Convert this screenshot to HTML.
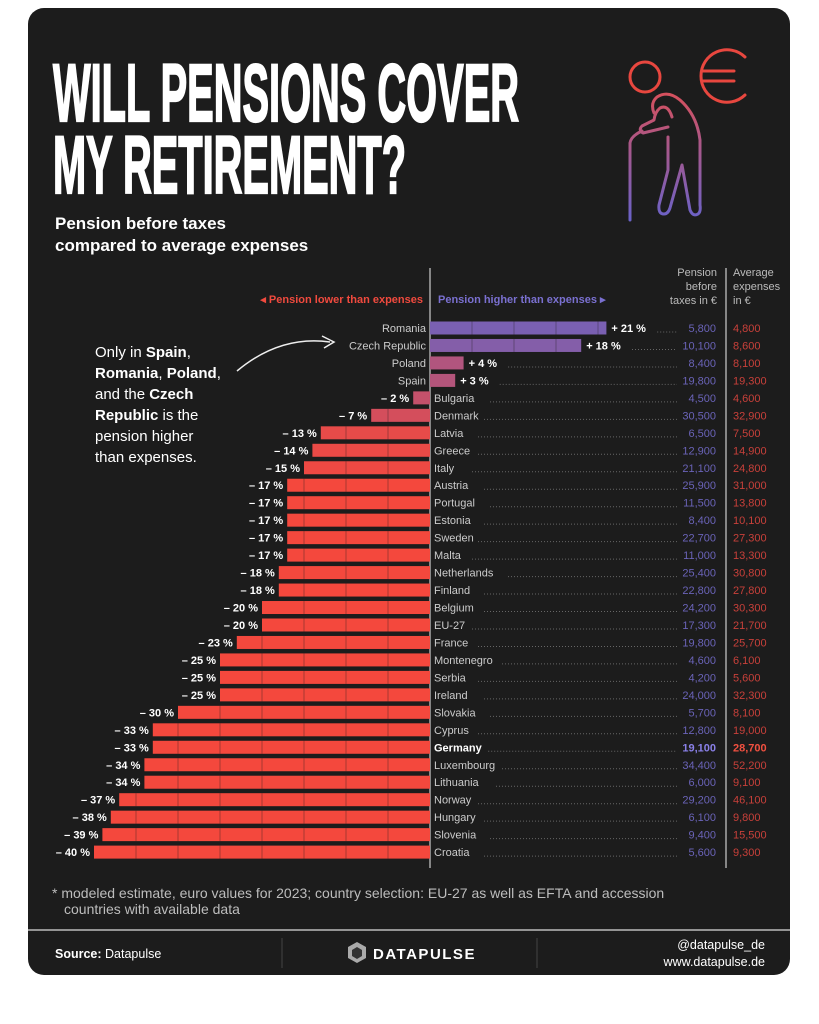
<!DOCTYPE html>
<html><head><meta charset="utf-8">
<style>
html,body{margin:0;padding:0;background:#fff;}
svg{display:block;font-family:"Liberation Sans",sans-serif;}
</style></head>
<body>
<svg id="chart" width="819" height="1024" viewBox="0 0 819 1024">
<defs>
<linearGradient id="ig" x1="0" y1="90" x2="0" y2="220" gradientUnits="userSpaceOnUse">
<stop offset="0" stop-color="#d9505a"/><stop offset="1" stop-color="#6a62c8"/>
</linearGradient>
</defs>
<rect x="28" y="8" width="762" height="967" rx="16" fill="#1c1c1c"/>
<g fill="#fff" stroke="#fff" stroke-width="2.2" font-family="'Liberation Sans Narrow','Liberation Sans',sans-serif" font-weight="bold">
<text x="53" y="121" font-size="82" textLength="466" lengthAdjust="spacingAndGlyphs">WILL PENSIONS COVER</text>
<text x="53" y="193" font-size="82" textLength="353" lengthAdjust="spacingAndGlyphs">MY RETIREMENT?</text>
</g>
<g fill="#fff" font-size="17" font-weight="bold">
<text x="55" y="229">Pension before taxes</text>
<text x="55" y="251">compared to average expenses</text>
</g>
<g fill="none" stroke-width="3" stroke-linecap="round" stroke-linejoin="round">
<circle cx="645" cy="77" r="15" stroke="#e8473f"/>
<path d="M745 57 A26 26 0 0 0 701 76 A26 26 0 0 0 745 95" stroke="#e8473f"/>
<path d="M702 71 H734 M702 81 H734" stroke="#e8473f"/>
<g stroke="url(#ig)">
<path d="M668 137 V170 L659 205 Q658 214 664 214 Q668 214 670 208 L682 165 L690 210 Q693 217 698 214 Q701 212 700 205 V140 Q697 115 680 100 Q668 90 657 97 Q650 103 654 113"/>
<path d="M672 117 Q668 104 660 108 Q655 112 654 120 L642 126 Q638 130 643 133 L668 127"/>
<path d="M630 220 V143 Q631 136 642 131"/>
</g>
</g>
<text x="52" y="898" font-size="14" fill="#bdbdbd">* modeled estimate, euro values for 2023; country selection: EU-27 as well as EFTA and accession</text>
<text x="64" y="914" font-size="14" fill="#bdbdbd">countries with available data</text>
<line x1="28" y1="930" x2="790" y2="930" stroke="#bbb" stroke-width="1.5"/>
<line x1="282" y1="938" x2="282" y2="968" stroke="#444"/>
<line x1="537" y1="938" x2="537" y2="968" stroke="#444"/>
<text x="55" y="958" font-size="12.5" fill="#fff"><tspan font-weight="bold">Source:</tspan> Datapulse</text>
<g>
<polygon points="357,942 366,947 366,958 357,963 348,958 348,947" fill="#aaa"/>
<polygon points="357,947 362,950 362,956 357,959 352,956 352,950" fill="#333"/>
<text x="373" y="959" font-size="15" font-weight="bold" fill="#fff" letter-spacing="1.5">DATAPULSE</text>
</g>
<text x="765" y="949" font-size="12.5" fill="#fff" text-anchor="end">@datapulse_de</text>
<text x="765" y="966" font-size="12.5" fill="#fff" text-anchor="end">www.datapulse.de</text>
<g fill="#fff" font-size="15">
<text x="95" y="357">Only in <tspan font-weight="bold">Spain</tspan>,</text>
<text x="95" y="378"><tspan font-weight="bold">Romania</tspan>, <tspan font-weight="bold">Poland</tspan>,</text>
<text x="95" y="399">and the <tspan font-weight="bold">Czech</tspan></text>
<text x="95" y="420"><tspan font-weight="bold">Republic</tspan> is the</text>
<text x="95" y="441">pension higher</text>
<text x="95" y="462">than expenses.</text>
</g>
<path d="M237 371 Q280 335 330 342 M322 336 L334 342 L324 348" fill="none" stroke="#eee" stroke-width="1.5"/>
<g font-size="11">
<text x="423" y="303" fill="#f04a3e" font-weight="bold" text-anchor="end">◂  Pension lower than expenses</text>
<text x="438" y="303" fill="#7a70d0" font-weight="bold">Pension higher than expenses  ▸</text>
<g fill="#bbb" text-anchor="end"><text x="717" y="276">Pension</text><text x="717" y="290">before</text><text x="717" y="304">taxes in €</text></g>
<g fill="#bbb"><text x="733" y="276">Average</text><text x="733" y="290">expenses</text><text x="733" y="304">in €</text></g>
</g>
<line x1="430" y1="268" x2="430" y2="868" stroke="#ccc" stroke-width="1.2"/>
<line x1="726" y1="268" x2="726" y2="868" stroke="#ccc" stroke-width="1.2"/>
<g id="rows"></g>
</svg>
<script>
const countries=["Romania","Czech Republic","Poland","Spain","Bulgaria","Denmark","Latvia","Greece","Italy","Austria","Portugal","Estonia","Sweden","Malta","Netherlands","Finland","Belgium","EU-27","France","Montenegro","Serbia","Ireland","Slovakia","Cyprus","Germany","Luxembourg","Lithuania","Norway","Hungary","Slovenia","Croatia"];
const diffs=[21,18,4,3,-2,-7,-13,-14,-15,-17,-17,-17,-17,-17,-18,-18,-20,-20,-23,-25,-25,-25,-30,-33,-33,-34,-34,-37,-38,-39,-40];
const pensions=[5800,10100,8400,19800,4500,30500,6500,12900,21100,25900,11500,8400,22700,11000,25400,22800,24200,17300,19800,4600,4200,24000,5700,12800,19100,34400,6000,29200,6100,9400,5600];
const expenses=[4800,8600,8100,19300,4600,32900,7500,14900,24800,31000,13800,10100,27300,13300,30800,27800,30300,21700,25700,6100,5600,32300,8100,19000,28700,52200,9100,46100,9800,15500,9300];
const NS="http://www.w3.org/2000/svg";
const x0=430,pxPer=8.4,y0=328,step=17.47,bh=13;
const xs=v=>x0+v*pxPer;
const ys=i=>y0+i*step;
const fmt=n=>n.toLocaleString("en-US");
function col(v){let t=Math.max(0,Math.min(1,(21-v)/38));const a=[122,96,178],b=[244,72,61];return `rgb(${a.map((c,k)=>Math.round(c+(b[k]-c)*t)).join(",")})`;}
const g=document.getElementById("rows");
function mk(tag,at,txt){const e=document.createElementNS(NS,tag);for(const k in at)e.setAttribute(k,at[k]);if(txt!==undefined)e.textContent=txt;return e;}
countries.forEach((c,i)=>{
  const v=diffs[i],y=ys(i),bold=c==="Germany";
  const row=mk("g",{});
  
  
  const bx=Math.min(xs(0),xs(v)),bw=Math.abs(xs(v)-xs(0));
  const bar=mk("rect",{x:bx,y:y-bh/2,width:bw,height:bh,fill:col(v)});
  
  
  row.appendChild(bar);
  for(let s=5;s<Math.abs(v);s+=5){const sx=xs(v>0?s:-s);row.appendChild(mk("line",{x1:sx,x2:sx,y1:y-bh/2,y2:y+bh/2,stroke:"#1c1c1c","stroke-opacity":0.35,"stroke-width":1}));}
  const lab=(v>0?"+ ":"– ")+Math.abs(v)+" %";
  let dotStart;
  if(v>0){
    const n=mk("text",{x:426,y:y+4,"font-size":11,fill:"#ccc","text-anchor":"end"},c);
    
    
    row.appendChild(n);
    const vl=mk("text",{x:xs(v)+5,y:y+4,"font-size":11,fill:"#fff","font-weight":"bold"},lab);
    
    
    row.appendChild(vl);
    dotStart=xs(v)+5+lab.length*6.3+8;
  }else{
    const vl=mk("text",{x:xs(v)-4,y:y+4,"font-size":11,fill:"#fff","font-weight":"bold","text-anchor":"end"},lab);
    
    
    row.appendChild(vl);
    const n=mk("text",{x:434,y:y+4,"font-size":11,fill:bold?"#fff":"#ccc","font-weight":bold?"bold":"normal"},c);
    
    
    row.appendChild(n);
    dotStart=434+c.length*(bold?6.6:6.0)+8;
  }
  row.appendChild(mk("line",{x1:dotStart,x2:677,y1:y+4,y2:y+4,stroke:"#666","stroke-width":1,"stroke-dasharray":"1 2"}));
  const p=mk("text",{x:716,y:y+4,"font-size":11,fill:bold?"#8a80e8":"#6a63b8","text-anchor":"end","font-weight":bold?"bold":"normal"},fmt(pensions[i]));
  
  
  row.appendChild(p);
  const e=mk("text",{x:733,y:y+4,"font-size":11,fill:bold?"#f05040":"#c8403a","font-weight":bold?"bold":"normal"},fmt(expenses[i]));
  
  
  row.appendChild(e);
  g.appendChild(row);
});
</script>
</body></html>
